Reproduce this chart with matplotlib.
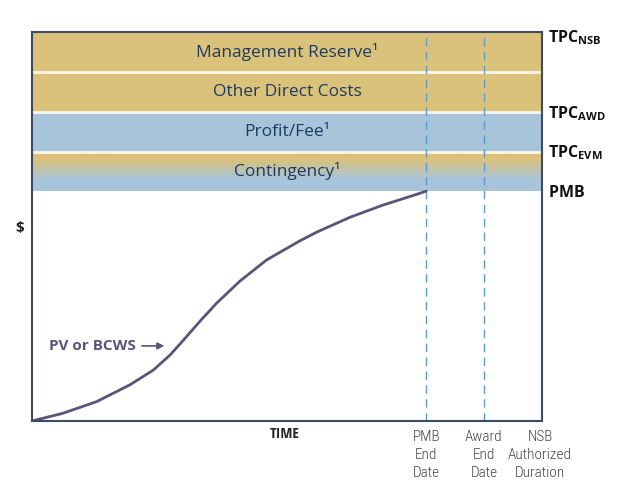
import numpy as np
import matplotlib.pyplot as plt
from matplotlib.colors import LinearSegmentedColormap

plt.rcParams['font.family'] = ['Open Sans', 'DejaVu Sans']
plt.rcParams['mathtext.fontset'] = 'custom'
plt.rcParams['mathtext.rm'] = 'Open Sans'
plt.rcParams['mathtext.bf'] = 'Open Sans:bold'

# valeurs (temps 0-100, $ 0-100)
tiempo = [0, 6.1, 12.7, 19.2, 23.8, 27.1, 29.7, 32.9, 36.2, 40.8, 46.0, 52.5,
          55.9, 62.4, 68.8, 75.5, 77.3]
pv = [0, 2.0, 5.0, 9.3, 13.1, 17.0, 20.8, 25.6, 30.3, 36.0, 41.4, 46.3,
      48.6, 52.4, 55.5, 58.3, 59.1]

niveles = [59.1, 69.2, 79.4, 89.7, 100]
bandas = ['Contingency¹', 'Profit/Fee¹', 'Other Direct Costs', 'Management Reserve¹']
colores_banda = ['gradient', '#a8c4da', '#dbc27a', '#dbc27a']
etiquetas_der = [r'$\mathbf{PMB}$', r'$\mathbf{TPC_{EVM}}$', r'$\mathbf{TPC_{AWD}}$', r'$\mathbf{TPC_{NSB}}$']
niveles_der = [59.1, 69.2, 79.4, 100]
fechas = [77.3, 88.6, 99.6]
etiquetas_fechas = ['PMB\nEnd\nDate', 'Award\nEnd\nDate', 'NSB\nAuthorized\nDuration']

oro = '#dbc27a'
azul = '#a8c4da'
texto = '#1f3a60'
curva = '#5a5478'
borde = '#3f4a66'

fig = plt.figure(figsize=(6.22, 5.03), dpi=100)
ax = fig.add_axes([32/622, 1-421/503, 510/622, 389/503])
ax.set_xlim(0, 100)
ax.set_ylim(0, 100)

for i, nombre in enumerate(bandas):
    y0, y1 = niveles[i], niveles[i+1]
    if colores_banda[i] == 'gradient':
        cmap = LinearSegmentedColormap.from_list('cont', [(0, azul), (0.3, azul), (0.8, oro), (1, oro)])
        grad = np.linspace(0, 1, 100).reshape(-1, 1)
        ax.imshow(grad, extent=[0, 100, y0, y1], origin='lower', cmap=cmap,
                  aspect='auto', zorder=1)
    else:
        ax.axhspan(y0, y1, color=colores_banda[i], lw=0, zorder=1)
    ax.text(50, (y0 + y1) / 2, nombre, ha='center', va='center', fontsize=12.5,
            color=texto, zorder=4)

for y in niveles[1:-1]:
    ax.axhline(y, color='#fbf6ea', lw=2, zorder=2)

for x in fechas[:2]:
    ax.axvline(x, color='#5b9bd5', lw=1, dashes=(6, 4), zorder=3)

ax.plot(tiempo, pv, color=curva, lw=2, zorder=5, solid_capstyle='round',
        solid_joinstyle='round')

ax.annotate('', xy=(26.5, 19.3), xytext=(21, 19.3),
            arrowprops=dict(arrowstyle='-|>', color=curva, lw=1.2, mutation_scale=10))
ax.text(20.4, 19.3, 'PV or BCWS', ha='right', va='center', fontsize=11,
        fontweight='bold', color=curva)

for lab, y in zip(etiquetas_der, niveles_der):
    off = -7.5 if y == 100 else -4.3
    ax.annotate(lab, xy=(1, y), xycoords=('axes fraction', 'data'),
                xytext=(4.5, off), textcoords='offset points',
                ha='left', va='baseline', fontsize=11.5, color='#111111',
                annotation_clip=False)

ax.text(-0.015, 49.6, '$', transform=ax.get_yaxis_transform(), ha='right',
        va='center', fontsize=11, fontweight='bold', color='#222222')

ax.text(0.496, -0.015, 'TIME', transform=ax.transAxes, ha='center', va='top',
        fontsize=11, fontweight='bold', color='#222222',
        family=['Open Sans Condensed', 'Open Sans'])

for x, lab in zip(fechas, etiquetas_fechas):
    ax.text(x, -0.022, lab, transform=ax.get_xaxis_transform(), ha='center',
            va='top', fontsize=11, fontweight='light', color='#444444',
            family=['Roboto Condensed', 'Open Sans'], linespacing=1.38)

ax.set_xticks([])
ax.set_yticks([])
for s in ax.spines.values():
    s.set_color(borde)
    s.set_linewidth(1.5)
    s.set_zorder(6)

fig.savefig('out.png', dpi=100)
